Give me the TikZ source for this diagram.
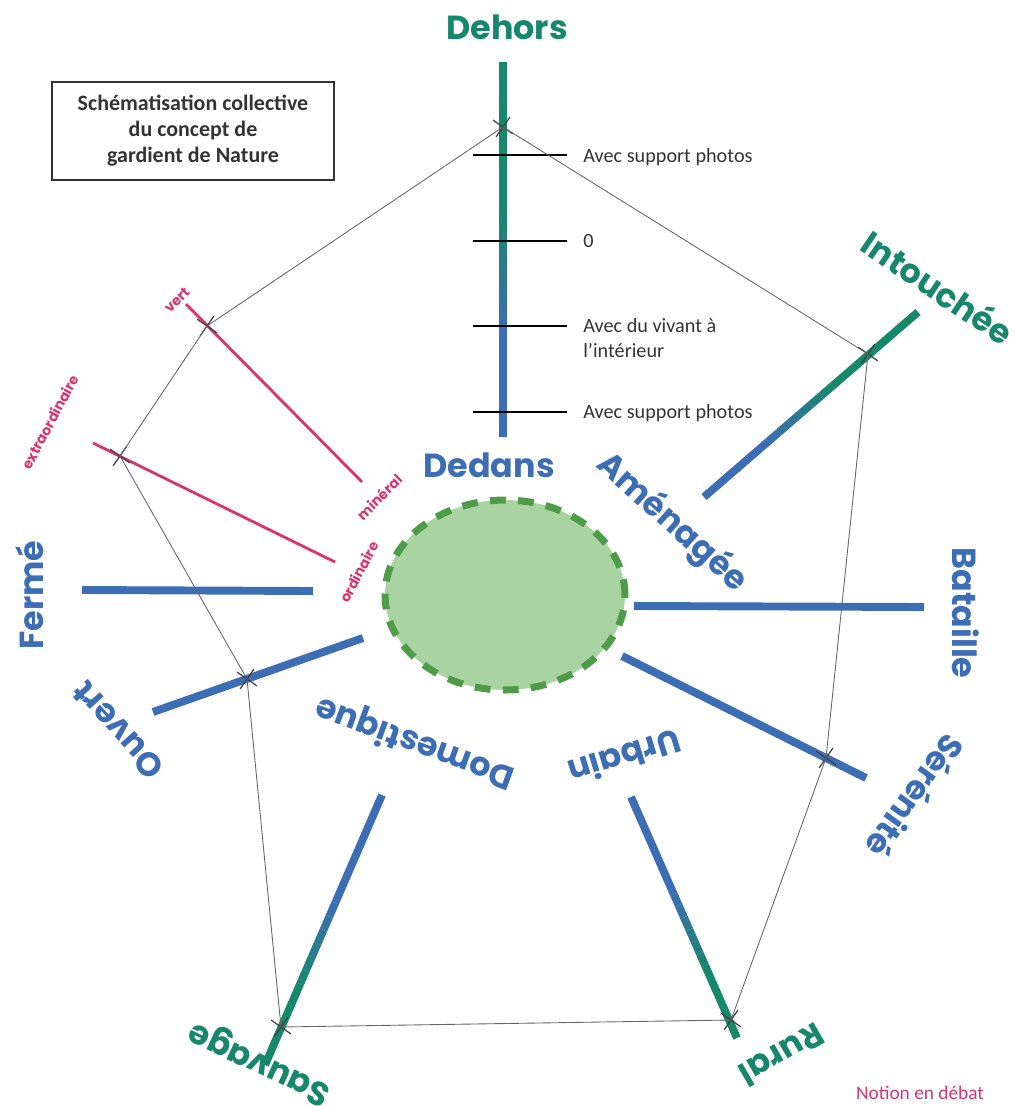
\documentclass[tikz,border=0pt]{standalone}
\usepackage{fontspec}
\setmainfont{Carlito}
\newfontfamily\roundfont{Poppins}
\usetikzlibrary{calc,shapes.misc,shapes.geometric}
\definecolor{natgreen}{HTML}{17876B}
\definecolor{natblue}{HTML}{3D6DB3}
\definecolor{natpink}{HTML}{D8356F}
\definecolor{discfill}{HTML}{A9D3A1}
\definecolor{discedge}{HTML}{4E9B4A}
\definecolor{inkgray}{HTML}{333333}
\newcommand{\gradaxis}[4]{%
  \draw[axis, draw=#3] (#1) -- ($(#1)!0.4!(#2)$);
  \foreach \k in {0,...,5}{
    \pgfmathsetmacro{\ta}{0.4+\k*0.05}
    \pgfmathsetmacro{\tb}{0.45+\k*0.05}
    \pgfmathtruncatemacro{\mixpct}{92-\k*16}
    \draw[axis, draw=#3!\mixpct!#4] ($(#1)!\ta!(#2)$) -- ($(#1)!\tb!(#2)$);
  }
  \draw[axis, draw=#4] ($(#1)!0.7!(#2)$) -- (#2);}

\begin{document}
\begin{tikzpicture}[x=0.02cm, y=-0.02cm,
  axis/.style={line width=4.5pt, line cap=butt},
  big label/.style={font=\roundfont\bfseries\fontsize{19}{23}\selectfont, inner sep=0pt},
  pink label/.style={font=\roundfont\bfseries\fontsize{8}{10}\selectfont, text=natpink, inner sep=0pt},
  tick note/.style={font=\fontsize{11.5}{14}\selectfont, text=inkgray, anchor=west, align=left, inner sep=0pt},
  cross node/.style={cross out, draw=black!75, minimum size=9pt, inner sep=0pt, line width=0.7pt, rotate=10},
  web/.style={draw=black!60, line width=0.5pt}]
\useasboundingbox (0,0) rectangle (1016,1106);

\node[draw=black!80, line width=1pt, minimum width=5.64cm, minimum height=1.96cm, align=center, text=inkgray, font=\bfseries\fontsize{12.5}{14.8}\selectfont] (title) at (193,131) {Schématisation collective\\du concept de\\gardient de Nature};

\node[draw=discedge, fill=discfill, ellipse, line width=4pt, dash pattern=on 9pt off 7pt, minimum width=4.8cm, minimum height=3.8cm] (disc) at (505,595) {};

% axes
\coordinate (dehorsA) at (503,62);
\coordinate (dehorsB) at (503,437);
\coordinate (intoA) at (918,312);
\coordinate (intoB) at (704,497);
\coordinate (domA) at (382,795);
\coordinate (domB) at (265,1065);
\coordinate (urbA) at (631,797);
\coordinate (urbB) at (737,1038);
\coordinate (batA) at (634,606);
\coordinate (batB) at (924,607);
\coordinate (serA) at (622,656);
\coordinate (serB) at (866,778);
\coordinate (ouvA) at (363,638);
\coordinate (ouvB) at (153,712);
\coordinate (ferA) at (313,591);
\coordinate (ferB) at (82,590);
\gradaxis{dehorsA}{dehorsB}{natgreen}{natblue}
\gradaxis{intoA}{intoB}{natgreen}{natblue}
\gradaxis{domA}{domB}{natblue}{natgreen}
\gradaxis{urbA}{urbB}{natblue}{natgreen}
\draw[axis, natblue] (batA) -- (batB);
\draw[axis, natblue] (serA) -- (serB);
\draw[axis, natblue] (ouvA) -- (ouvB);
\draw[axis, natblue] (ferA) -- (ferB);

\foreach \ty in {155,241,326,412}
  \draw[black, line width=1.2pt] (473,\ty) -- (567,\ty);
\node[tick note] (photoTop) at (583,157) {Avec support photos};
\node[tick note] (zero) at (583,241) {0};
\node[tick note] (vivant) at (583,338) {Avec du vivant à\\l’intérieur};
\node[tick note] (photoLow) at (583,413) {Avec support photos};

% notions en debat
\coordinate (vertA) at (186,304);
\coordinate (vertB) at (362,482);
\coordinate (extraA) at (93,443);
\coordinate (extraB) at (335,562);
\draw[natpink, line width=1.6pt] (vertA) -- (vertB);
\draw[natpink, line width=1.6pt] (extraA) -- (extraB);
\node[pink label, rotate=45] (vert) at (177,300) {vert};
\node[pink label, rotate=45] (mineral) at (379,497) {minéral};
\node[pink label, rotate=62] (extra) at (50,422) {extraordinaire};
\node[pink label, rotate=62] (ordinaire) at (359,572) {ordinaire};

\node[cross node] (x1) at (503,127) {};
\node[cross node] (x2) at (868,354) {};
\node[cross node] (x3) at (826,758) {};
\node[cross node] (x4) at (731,1020) {};
\node[cross node] (x5) at (281,1027) {};
\node[cross node] (x6) at (247,679) {};
\node[cross node] (x7) at (120,456) {};
\node[cross node] (x8) at (207,326) {};
\draw[web] (x1.center) -- (x2.center) -- (x3.center) -- (x4.center) -- (x5.center)
  -- (x6.center) -- (x7.center) -- (x8.center) -- cycle;

\node[big label, text=natgreen] (dehors) at (507,27) {Dehors};
\node[big label, text=natgreen, rotate=-34] (intouchee) at (938,287) {Intouchée};
\node[big label, text=natblue] (dedans) at (489,465) {Dedans};
\node[big label, text=natblue, rotate=-42] (amenagee) at (672,523) {Aménagée};
\node[big label, text=natblue, rotate=-90] (bataille) at (966,613) {Bataille};
\node[big label, text=natblue, rotate=-126] (serenite) at (916,797) {Sérénité};
\node[big label, text=natblue, rotate=-163] (urbain) at (625,758) {Urbain};
\node[big label, text=natblue, rotate=160] (domestique) at (415,742) {Domestique};
\node[big label, text=natgreen, rotate=-150] (rural) at (782,1055) {Rural};
\node[big label, text=natgreen, rotate=155] (sauvage) at (260,1062) {Sauvage};
\node[big label, text=natblue, rotate=132] (ouvert) at (118,730) {Ouvert};
\node[big label, text=natblue, rotate=90] (ferme) at (30,595) {Fermé};

\node[text=natpink, font=\fontsize{11}{13}\selectfont] (debat) at (920,1093) {Notion en débat};
\end{tikzpicture}
\end{document}
